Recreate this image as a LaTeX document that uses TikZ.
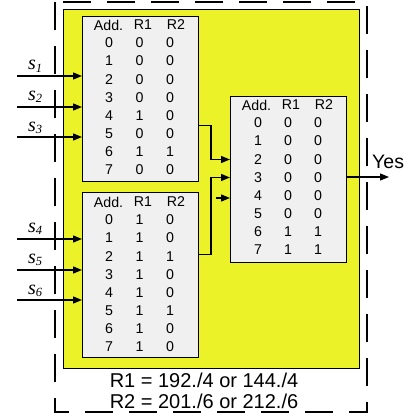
\documentclass[tikz,border=0pt]{standalone}
\usepackage{fontspec}
\setmainfont{Liberation Sans}
\newfontfamily\serifit{Liberation Serif}
\usetikzlibrary{arrows.meta,calc}
\definecolor{ylw}{RGB}{235,242,40}
\definecolor{tgray}{RGB}{240,240,240}
\newcommand{\slabel}[1]{{\fontsize{20}{20}\selectfont\serifit\itshape s\raisebox{-0.3ex}{\fontsize{12.5}{12}\selectfont #1}}}
\begin{document}
\begin{tikzpicture}[x=1pt,y=-1pt,
  tbl/.style={draw=black, line width=1pt, fill=tgray, minimum width=116pt, minimum height=165pt, inner sep=0pt, anchor=north west},
  cell/.style={font=\fontsize{14.2}{15}\selectfont, inner sep=0pt, anchor=center},
  arr/.style={line width=1.3pt, -{Triangle[length=9pt,width=7pt]}},
  wire/.style={line width=1.3pt},
  lab/.style={inner sep=0pt, anchor=base west}]
\useasboundingbox (0,0) rectangle (415,417);
\draw[line width=1.3pt, dash pattern=on 28pt off 16pt] (55,2) rectangle (367,412);
\node[draw=black, line width=1.3pt, fill=ylw, minimum width=296pt, minimum height=359pt, anchor=north west, inner sep=0pt] (Y) at (63,9) {};
% tables
\node[tbl] (A) at (82,16) {};
\node[tbl] (B) at (82,192) {};
\node[tbl, minimum height=166pt] (C) at (230,96) {};
\foreach \t/\x/\y/\hy in {A/82/16/9, B/82/192/10, C/230/96/9}{
  \begin{scope}[shift={(\x,\y)}]
    \node[cell] (\t-ha) at (26.5,\hy) {Add.};
    \node[cell] (\t-h1) at (61,\hy) {R1};
    \node[cell] (\t-h2) at (94,\hy) {R2};
  \end{scope}
}
\begin{scope}[shift={(82,16)}]
\foreach \r/\s [count=\i from 0] in {0/0,0/0,0/0,0/0,1/0,0/0,1/1,0/0}{
  \node[cell] (A-\i a) at (27,{27+18.1*\i}) {\i};
  \node[cell] (A-\i b) at (57.5,{27+18.1*\i}) {\r};
  \node[cell] (A-\i c) at (88,{27+18.1*\i}) {\s};
}
\end{scope}
\begin{scope}[shift={(82,192)}]
\foreach \r/\s [count=\i from 0] in {1/0,1/0,1/1,1/0,1/0,1/1,1/0,1/0}{
  \node[cell] (B-\i a) at (27,{28+18.1*\i}) {\i};
  \node[cell] (B-\i b) at (57.5,{28+18.1*\i}) {\r};
  \node[cell] (B-\i c) at (88,{28+18.1*\i}) {\s};
}
\end{scope}
\begin{scope}[shift={(230,96)}]
\foreach \r/\s [count=\i from 0] in {0/0,0/0,0/0,0/0,0/0,0/0,1/1,1/1}{
  \node[cell] (C-\i a) at (28,{27+18.1*\i}) {\i};
  \node[cell] (C-\i b) at (58,{27+18.1*\i}) {\r};
  \node[cell] (C-\i c) at (88,{27+18.1*\i}) {\s};
}
\end{scope}
% inputs
\foreach \n/\ay/\ly/\tb in {1/76/70/A, 2/107/100/A, 3/137/131/A, 4/239/232/B, 5/270/263/B, 6/300/294/B}{
  \coordinate (in\n) at (17,\ay);
  \draw[arr] (in\n) -- (in\n -| \tb.west);
  \node[lab] (sl\n) at (28,\ly) {\slabel{\n}};
}
% internal connectors
\draw[arr] ($(A.east)+(0,26.5)$) -- ++(12,0) |- ($(C.west)+(0,-20)$);
\draw[arr] ($(B.east)+(0,-20.5)$) -- ++(12,0) |- ($(C.west)+(0,-2)$);
\coordinate (free) at (216,198);
\draw[arr] (free) -- (free -| C.west);
% output
\coordinate (out) at (389,177);
\draw[arr] (C.east |- out) -- (out);
\node[lab, font=\fontsize{19.5}{20}\selectfont] (yes) at (372,168) {Yes};
% bottom text
\node[inner sep=0pt, anchor=base, font=\fontsize{20}{22}\selectfont] (r1) at (204,387) {R1 = 192./4 or 144./4};
\node[inner sep=0pt, anchor=base, font=\fontsize{20}{22}\selectfont] (r2) at (204,408) {R2 = 201./6 or 212./6};
\end{tikzpicture}
\end{document}
